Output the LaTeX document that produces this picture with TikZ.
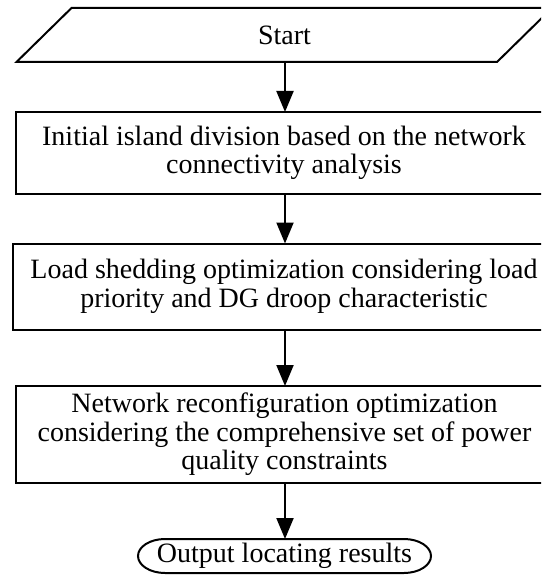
\documentclass[tikz,border=0pt]{standalone}
\usepackage{fontspec}
\setmainfont{Liberation Serif}
\usetikzlibrary{arrows.meta}
\begin{document}
\begin{tikzpicture}[x=1pt,y=-1pt,
  every node/.style={font=\fontsize{28}{28.5}\selectfont, align=center, inner sep=0pt, outer sep=0pt},
  procbox/.style={draw, line width=2pt, rectangle},
  flow/.style={line width=2pt, -{Triangle[length=21pt,width=17pt]}},
  edge/.style={line width=2pt, line join=miter}]
\useasboundingbox (0,0) rectangle (541,575);
\clip (0,0) rectangle (541,575);

% input parallelogram
\draw[edge] (16.5,62) -- (497,62) -- (552,8) -- (71.5,8) -- cycle;
\node (start) [minimum height=54pt, minimum width=200pt] at (284.5,35) {Start};

% process steps
\node (s1) [procbox, minimum width=536pt, minimum height=82pt] at (284,153)
  {Initial island division based on the network\\connectivity analysis};
\node (s2) [procbox, minimum width=542pt, minimum height=86pt] at (284,286.5)
  {Load shedding optimization considering load\\priority and DG droop characteristic};
\node (s3) [procbox, minimum width=538pt, minimum height=97pt] at (284.5,434.5)
  {Network reconfiguration optimization\\considering the comprehensive set of power\\quality constraints};

% terminator
\node (out) [minimum width=293pt, minimum height=34pt] at (284.5,556) {Output locating results};
\draw[edge] (165,539) -- (404,539)
  arc[start angle=90, end angle=-90, x radius=27, y radius=-17]
  -- (165,573)
  arc[start angle=270, end angle=90, x radius=27, y radius=-17] -- cycle;

% connectors
\draw[flow] (start.south -| 285,0) -- (s1.north -| 285,0);
\draw[flow] (s1.south -| 285,0) -- (s2.north -| 285,0);
\draw[flow] (s2.south -| 285,0) -- (s3.north -| 285,0);
\draw[flow] (s3.south -| 285,0) -- (out.north -| 285,0);
\end{tikzpicture}
\end{document}
